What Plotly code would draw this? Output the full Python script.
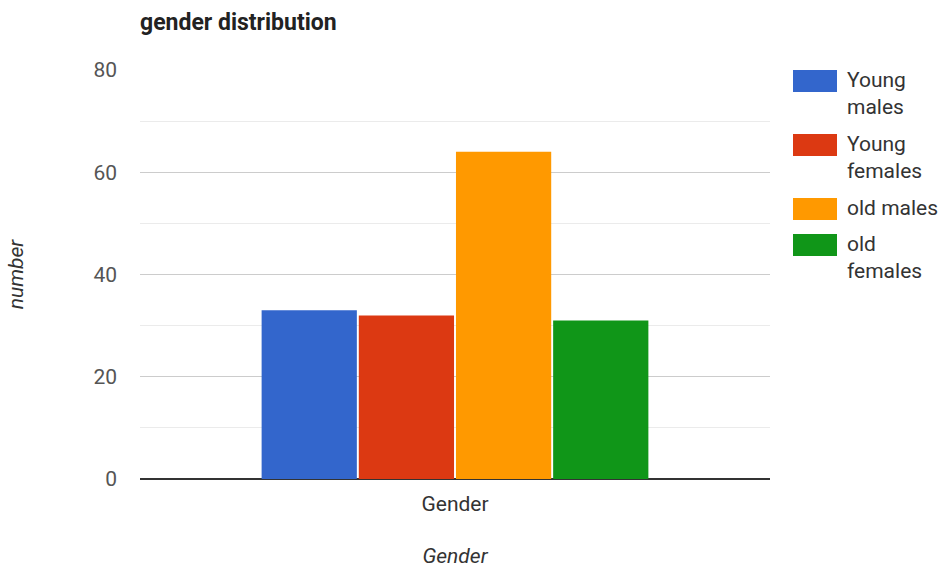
import plotly.graph_objects as go

categories = ["Gender"]
series_names = ["Young<br>males", "Young<br>females", "old males", "old<br>females"]
series_values = [[33], [32], [64], [31]]
colors = ["#3366cc", "#dc3912", "#ff9900", "#109618"]
y_ticks = [0, 20, 40, 60, 80]

W, H = 944, 569
L, R, T, B = 140, 174, 70, 90
PW, PH = W - L - R, H - T - B

fig = go.Figure()
for name, vals, c in zip(series_names, series_values, colors):
    fig.add_trace(go.Bar(x=categories, y=vals, name=name, showlegend=False,
                         marker=dict(color=c, line=dict(width=0))))

# custom legend (wide swatches like the reference)
def px2paper(px, py):
    return (px - L) / PW, 1 - (py - T) / PH

top = 70
for name, c in zip(series_names, colors):
    nlines = name.count("<br>") + 1
    x0, y0 = px2paper(793, top)
    x1, y1 = px2paper(837, top + 22)
    fig.add_shape(type="rect", xref="paper", yref="paper", x0=x0, x1=x1, y0=y1, y1=y0,
                  fillcolor=c, line=dict(width=0))
    tx, ty = px2paper(845, top - 4)
    fig.add_annotation(xref="paper", yref="paper", x=tx, y=ty, xanchor="left", yanchor="top",
                       text=name, showarrow=False, align="left",
                       font=dict(size=21, color="#333"))
    top += nlines * 28 + 8

fig.update_layout(
    width=W, height=H,
    margin=dict(l=L, r=R, t=T, b=B),
    paper_bgcolor="white", plot_bgcolor="white",
    font=dict(family="Roboto, Arial, sans-serif", color="#444"),
    title=dict(text="<b>gender distribution</b>", x=140/944, xanchor="left", y=1-22/569, yanchor="middle",
               font=dict(family="Roboto, Arial, sans-serif", size=23, color="#222")),
    barmode="group", bargap=0.383, bargroupgap=0.02,
    showlegend=False,
    xaxis=dict(title=dict(text="<i>Gender</i>", font=dict(size=21, color="#333"), standoff=33),
               tickfont=dict(size=21, color="#333"), showgrid=False, ticks="", showline=False,
               ticklabelstandoff=10, automargin=False),
    yaxis=dict(title=dict(text="<i>number</i>", font=dict(size=21, color="#333"), standoff=64),
               range=[0, 80], tickvals=y_ticks, tickfont=dict(size=21, color="#555"),
               showgrid=True, gridcolor="#cccccc", gridwidth=1,
               minor=dict(dtick=10, showgrid=True, gridcolor="#ebebeb", gridwidth=1),
               zeroline=True, zerolinecolor="#333333", zerolinewidth=1.5, ticks="", ticklabelstandoff=22,
               automargin=False),
)

fig.write_html("out.html")
